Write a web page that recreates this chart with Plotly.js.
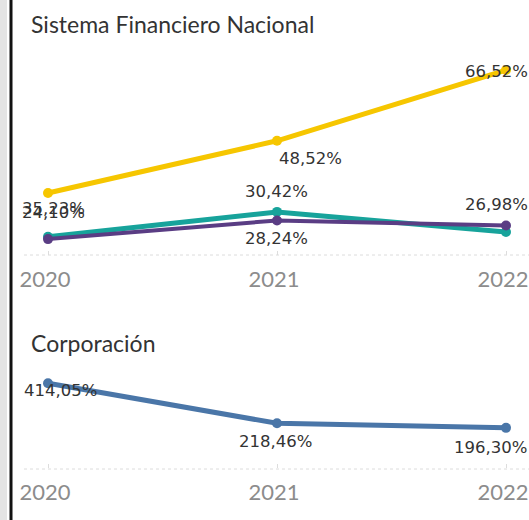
<!DOCTYPE html>
<html>
<head>
<meta charset="utf-8">
<script src="https://cdn.plot.ly/plotly-3.0.1.min.js"></script>
<style>html,body{margin:0;padding:0;background:#fff;}#chart{width:529px;height:520px;}</style>
</head>
<body>
<div id="chart"></div>
<script>
// ---- data ----
const years = [2020, 2021, 2022];
const yearLabels = ["2020", "2021", "2022"];
const sfnYellow = [35.23, 48.52, 66.52];
const sfnTeal = [24.10, 30.42, 25.30];
const sfnPurple = [23.50, 28.24, 26.98];
const corpBlue = [414.05, 218.46, 196.30];
const panelTitles = ["Sistema Financiero Nacional", "Corporación"];

// ---- helpers ----
const W = 529, H = 520;
const px = v => v / W;          // horizontal pixel -> paper
const py = v => 1 - v / H;      // vertical pixel (from top) -> paper
const fmt = v => v.toFixed(2).replace('.', ',') + '%';

const C = {yellow: '#F6C600', teal: '#17A39B', purple: '#5A3D84', blue: '#4A76A8'};

function line(y, color, width, xa, ya, name) {
  return {
    x: years, y: y, xaxis: xa, yaxis: ya, name: name,
    type: 'scatter', mode: 'lines+markers',
    line: {color: color, width: width},
    marker: {color: color, size: 10},
    hoverinfo: 'skip', showlegend: false
  };
}

const traces = [
  line(sfnTeal, C.teal, 5, 'x', 'y', 'teal'),
  line(sfnPurple, C.purple, 4, 'x', 'y', 'purple'),
  line(sfnYellow, C.yellow, 5, 'x', 'y', 'yellow'),
  line(corpBlue, C.blue, 5, 'x2', 'y2', 'blue')
];

const lblFont = {family: 'DejaVu Sans, sans-serif', size: 16.5, color: '#333'};
function lbl(series, i, xa, ya, xs, ys) {
  return {x: years[i], y: series[i], xref: xa, yref: ya, text: fmt(series[i]),
          showarrow: false, xshift: xs, yshift: ys, font: lblFont};
}

const titleFont = {family: 'Lato, sans-serif', size: 23, color: '#333'};
const annotations = [
  lbl(sfnYellow, 0, 'x', 'y', 5, -15),
  lbl(sfnTeal, 0, 'x', 'y', 5, 24),
  lbl(sfnYellow, 1, 'x', 'y', 33, -18),
  lbl(sfnTeal, 1, 'x', 'y', -1, 20),
  lbl(sfnPurple, 1, 'x', 'y', -1, -18),
  lbl(sfnYellow, 2, 'x', 'y', -10, -1),
  lbl(sfnPurple, 2, 'x', 'y', -10, 21),
  lbl(corpBlue, 0, 'x2', 'y2', 12, -7),
  lbl(corpBlue, 1, 'x2', 'y2', -2, -18),
  lbl(corpBlue, 2, 'x2', 'y2', -16, -20),
  {x: px(29), y: py(24), xref: 'paper', yref: 'paper', xanchor: 'left', yanchor: 'middle',
   text: panelTitles[0], showarrow: false, font: titleFont},
  {x: px(29), y: py(343), xref: 'paper', yref: 'paper', xanchor: 'left', yanchor: 'middle',
   text: panelTitles[1], showarrow: false, font: titleFont}
];

const xCommon = {
  range: [2020 - 48 / 229, 2022 + 23 / 229],
  tickvals: years, ticktext: yearLabels,
  showgrid: false, zeroline: false, showline: false,
  ticks: 'inside', ticklen: 4, tickcolor: '#ddd',
  tickfont: {family: 'Lato, sans-serif', size: 22, color: '#8c8c8c'},
  ticklabelshift: -3, ticklabelstandoff: 9, fixedrange: true
};

const layout = {
  width: W, height: H,
  margin: {l: 0, r: 0, t: 0, b: 0},
  paper_bgcolor: '#fff', plot_bgcolor: '#fff',
  xaxis: Object.assign({}, xCommon, {anchor: 'y'}),
  xaxis2: Object.assign({}, xCommon, {anchor: 'y2'}),
  yaxis: {domain: [py(255), py(45)], range: [19.45, 72.9], visible: false, fixedrange: true},
  yaxis2: {domain: [py(468), py(360)], range: [0, 528], visible: false, fixedrange: true},
  annotations: annotations,
  shapes: [
    {type: 'rect', xref: 'paper', yref: 'paper', x0: 0, x1: px(7), y0: 0, y1: 1,
     fillcolor: '#e4e4e4', line: {width: 0}},
    {type: 'line', xref: 'paper', yref: 'paper', x0: px(11), x1: px(11), y0: 0, y1: 1,
     line: {color: '#111', width: 3}},
    {type: 'line', xref: 'paper', yref: 'paper', x0: px(24), x1: 1, y0: py(255), y1: py(255),
     line: {color: '#dcdcdc', width: 1, dash: 'dot'}},
    {type: 'line', xref: 'paper', yref: 'paper', x0: px(24), x1: 1, y0: py(469), y1: py(469),
     line: {color: '#dcdcdc', width: 1, dash: 'dot'}}
  ]
};

Plotly.newPlot('chart', traces, layout, {staticPlot: true, displayModeBar: false});
</script>
</body>
</html>
